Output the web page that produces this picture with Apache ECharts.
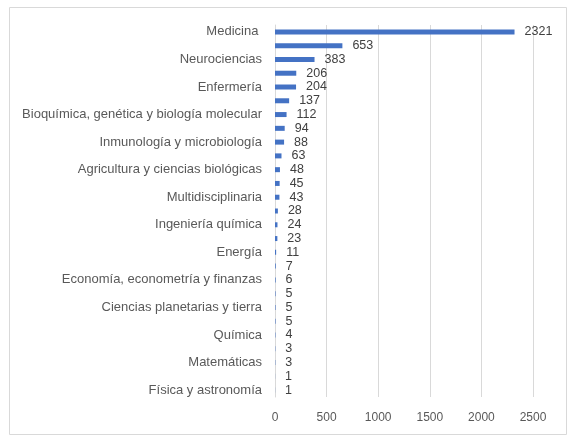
<!DOCTYPE html>
<html lang="es">
<head>
    <meta charset="UTF-8">
    <title>Documentos por área temática</title>
    <script src="https://cdn.jsdelivr.net/npm/echarts@6/dist/echarts.min.js"></script>
    <style>
        html, body { margin: 0; padding: 0; background: #fff; }
    </style>
</head>
<body>
<div id="chart" style="width: 574px; height: 444px"></div>
<script>
    // solo se ven las etiquetas de una de cada dos barras; las demás quedan en blanco
    var areas = [
        'Medicina ', '', 'Neurociencias', '', 'Enfermería', '',
        'Bioquímica, genética y biología molecular', '', 'Inmunología y microbiología', '',
        'Agricultura y ciencias biológicas', '', 'Multidisciplinaria', '',
        'Ingeniería química', '', 'Energía', '', 'Economía, econometría y finanzas', '',
        'Ciencias planetarias y tierra', '', 'Química', '', 'Matemáticas', '',
        'Física y astronomía'
    ];
    var documentos = [
        2321, 653, 383, 206, 204, 137, 112, 94, 88, 63, 48, 45, 43, 28,
        24, 23, 11, 7, 6, 5, 5, 5, 4, 3, 3, 1, 1
    ];
    var ejeX = { min: 0, max: 2500, interval: 500 };

    var myChart = echarts.init(document.getElementById('chart'));
    var fuente = 'Liberation Sans, Arial, sans-serif';

    myChart.setOption({
        animation: false,
        textStyle: { fontFamily: fuente },
        graphic: [{
            type: 'rect',
            shape: { x: 9.5, y: 7.5, width: 557, height: 427 },
            style: { fill: 'none', stroke: '#d9d9d9', lineWidth: 1 },
            silent: true
        }],
        grid: { left: 275, top: 25, width: 258, bottom: 47 },
        xAxis: {
            type: 'value',
            min: ejeX.min,
            max: ejeX.max,
            interval: ejeX.interval,
            axisLine: { show: false },
            axisTick: { show: false },
            splitLine: { lineStyle: { color: '#d9d9d9' } },
            axisLabel: {
                color: '#595959', fontSize: 12, margin: 15, fontFamily: fuente,
                formatter: function (v) { return String(v); }
            }
        },
        yAxis: {
            type: 'category',
            inverse: true,
            data: areas,
            axisLine: { lineStyle: { color: '#d9d9d9' } },
            axisTick: { show: false },
            axisLabel: { interval: 0, color: '#595959', fontSize: 13, margin: 13, fontFamily: fuente }
        },
        series: [{
            type: 'bar',
            data: documentos,
            barWidth: 5,
            itemStyle: { color: '#4472c4' },
            label: {
                show: true,
                position: 'right',
                distance: 10,
                color: '#404040',
                fontSize: 12.5,
                fontFamily: fuente
            }
        }]
    });
</script>
</body>
</html>
